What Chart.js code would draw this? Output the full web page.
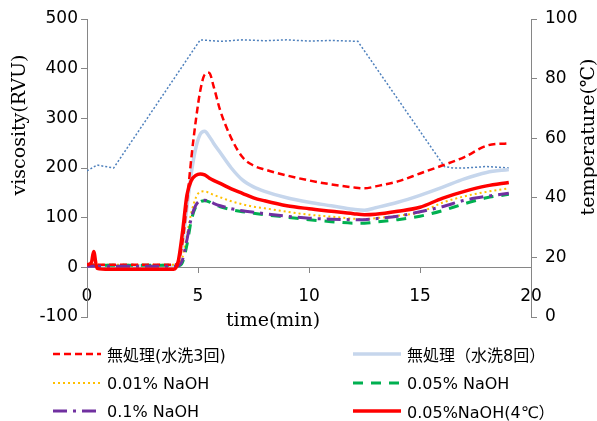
<!DOCTYPE html>
<html>
<head>
<meta charset="utf-8">
<script src="https://cdn.jsdelivr.net/npm/chart.js@4/dist/chart.umd.min.js"></script>
<style>
  html, body { margin: 0; padding: 0; background: #fff; }
  #wrap { position: relative; width: 597px; height: 421px; }
  #rvaChart { position: absolute; left: 0; top: 0; }
  .legend-item {
    position: absolute; display: flex; align-items: center; white-space: nowrap;
    font-family: "DejaVu Sans", "Noto Sans CJK JP", sans-serif; font-size: 16px; color: #000;
  }
  .legend-item svg { margin-right: 6px; }
</style>
</head>
<body>
<div id="wrap">
  <canvas id="rvaChart" width="597" height="421"></canvas>
</div>
<script>
// sampling times (min) shared by the viscosity curves
const times = [0, 0.2, 0.3, 0.45, 1, 2, 3, 3.9, 4.1, 4.3, 4.5, 4.7, 4.9, 5.1, 5.3, 5.5, 5.7,
               6, 6.5, 7, 7.5, 8, 9, 10, 11, 12, 12.5, 13, 14, 15, 16, 17, 18, 19];

// viscosity (RVU)
const wash3    = [5, 5, 5, 5, 5, 5, 5, 5, 10, 50, 130, 220, 295, 355, 388, 392, 365,
                  316, 260, 222, 205, 197, 185, 175, 167, 161, 159, 163, 173, 189, 205, 222, 245, 250];
const wash8    = [3, 3, 3, 3, 3, 3, 3, 3, 10, 50, 120, 190, 240, 268, 274, 264, 250,
                  231, 200, 176, 162, 153, 140, 131, 124, 117, 115, 120, 131, 145, 161, 178, 191, 197];
const naoh001  = [5, 5, 5, 5, 5, 5, 5, 5, 5, 20, 65, 110, 140, 152, 153, 150, 146,
                  141, 133, 127, 122, 119, 112, 106, 102, 98, 97, 99, 104, 111, 130, 143, 152, 159];
const naoh005  = [4, 4, 4, 4, 4, 4, 4, 4, 3, 10, 45, 95, 122, 132, 134, 132, 127,
                  122, 116, 112, 109, 106, 101, 96, 92, 89, 89, 91, 96, 103, 114, 128, 140, 147];
const naoh01   = [2, 2, 2, 2, 2, 2, 2, 2, 3, 15, 55, 100, 125, 134, 135, 133, 129,
                  124, 118, 114, 111, 108, 103, 99, 97, 96, 96, 98, 103, 112, 122, 135, 143, 149];
const naoh005c = [5, 10, 32, -2, -4, -4, -4, -4, 10, 70, 145, 175, 185, 188, 186, 180, 175,
                  169, 158, 149, 140, 134, 124, 118, 113, 108, 106, 107, 113, 121, 139, 153, 164, 171];

// temperature profile (°C)
const tempTimes  = [0, 0.45, 1.2, 5.1, 6, 7, 8, 9, 10, 11, 12.2, 16.1, 16.5, 17, 18, 19];
const tempValues = [49, 51, 50, 93, 92.5, 93, 92.7, 93, 92.6, 92.8, 92.5, 50.5, 50, 50, 50.5, 50];

const seriesLabels = ['無処理(水洗3回)', '無処理（水洗8回）', '0.01% NaOH', '0.05% NaOH', '0.1% NaOH', '0.05%NaOH(4℃）'];
const seriesValues = [wash3, wash8, naoh001, naoh005, naoh01, naoh005c];
const seriesStyle = [
  { color: '#ff0000', width: 2.5, dash: [7, 4],        order: 2 },
  { color: '#c6d6ec', width: 3.5, dash: [],            order: 5 },
  { color: '#ffc000', width: 2,   dash: [2, 3],        order: 4 },
  { color: '#00b050', width: 3,   dash: [10, 8],       order: 3 },
  { color: '#7030a0', width: 3,   dash: [14, 6, 3, 6], order: 1 },
  { color: '#ff0000', width: 3.5, dash: [],            order: 0 }
];

const datasets = seriesLabels.map((label, i) => ({
  label: label,
  data: times.map((t, j) => ({ x: t, y: seriesValues[i][j] })),
  borderColor: seriesStyle[i].color,
  borderWidth: seriesStyle[i].width,
  borderDash: seriesStyle[i].dash,
  order: seriesStyle[i].order,
  cubicInterpolationMode: 'monotone',
  pointRadius: 0,
  fill: false,
  yAxisID: 'y'
}));

datasets.push({
  label: 'temperature',
  data: tempTimes.map((t, j) => ({ x: t, y: tempValues[j] })),
  borderColor: '#4f81bd',
  borderWidth: 1.5,
  borderDash: [2, 2],
  order: 6,
  tension: 0,
  pointRadius: 0,
  fill: false,
  yAxisID: 'y1'
});

const tickFont = { family: '"DejaVu Sans", sans-serif', size: 17 };
const axisGray = '#868686';

// axis titles sit off-centre, so they are drawn here instead of through scale.title
const axisTitles = {
  id: 'axisTitles',
  afterDraw(chart) {
    const ctx = chart.ctx;
    ctx.save();
    ctx.fillStyle = '#000';
    ctx.font = '19px "DejaVu Serif", serif';
    ctx.textAlign = 'center';
    ctx.textBaseline = 'middle';
    ctx.fillText('time(min)', 273, 321);
    ctx.translate(20, 125);
    ctx.rotate(-Math.PI / 2);
    ctx.fillText('viscosity(RVU)', 0, 0);
    ctx.restore();
    ctx.save();
    ctx.fillStyle = '#000';
    ctx.font = '19px "DejaVu Serif", serif';
    ctx.textAlign = 'center';
    ctx.textBaseline = 'middle';
    ctx.translate(589, 137);
    ctx.rotate(-Math.PI / 2);
    ctx.fillText('temperature(℃)', 0, 0);
    ctx.restore();
  }
};

new Chart(document.getElementById('rvaChart').getContext('2d'), {
  type: 'line',
  data: { datasets: datasets },
  options: {
    responsive: false,
    animation: false,
    layout: { padding: { top: 19, bottom: 104, left: 0, right: 0 } },
    plugins: { legend: { display: false }, tooltip: { enabled: false } },
    scales: {
      x: {
        type: 'linear',
        min: 0, max: 20,
        position: { y: 0 },
        ticks: { stepSize: 5, padding: 14, color: '#000', font: tickFont, maxRotation: 0 },
        grid: { drawOnChartArea: false, tickLength: 5, color: axisGray },
        border: { color: axisGray }
      },
      y: {
        position: 'left',
        min: -100, max: 500,
        ticks: { stepSize: 100, padding: 3, color: '#000', font: tickFont },
        grid: { drawOnChartArea: false, tickLength: 6, color: axisGray },
        border: { color: axisGray },
        afterFit(scale) { scale.width = 87; }
      },
      y1: {
        position: 'right',
        min: 0, max: 100,
        ticks: { stepSize: 20, padding: 8, color: '#000', font: tickFont },
        grid: { drawOnChartArea: false, tickLength: 6, color: axisGray },
        border: { color: axisGray },
        afterFit(scale) { scale.width = 66; }
      }
    }
  },
  plugins: [axisTitles]
});

// two-column legend under the plot
const legendSlots = [[53, 354], [353, 354], [53, 383], [353, 383], [53, 411], [353, 411]];
const wrap = document.getElementById('wrap');
seriesLabels.forEach((label, i) => {
  const st = seriesStyle[i];
  const item = document.createElement('div');
  item.className = 'legend-item';
  item.style.left = legendSlots[i][0] + 'px';
  item.style.top = (legendSlots[i][1] - 11) + 'px';
  item.style.height = '22px';
  item.innerHTML =
    '<svg width="48" height="10"><line x1="0" y1="5" x2="48" y2="5" stroke="' + st.color +
    '" stroke-width="' + st.width + '" stroke-dasharray="' + (st.dash.length ? st.dash.join(' ') : 'none') +
    '"/></svg><span>' + label + '</span>';
  wrap.appendChild(item);
});
</script>
</body>
</html>
